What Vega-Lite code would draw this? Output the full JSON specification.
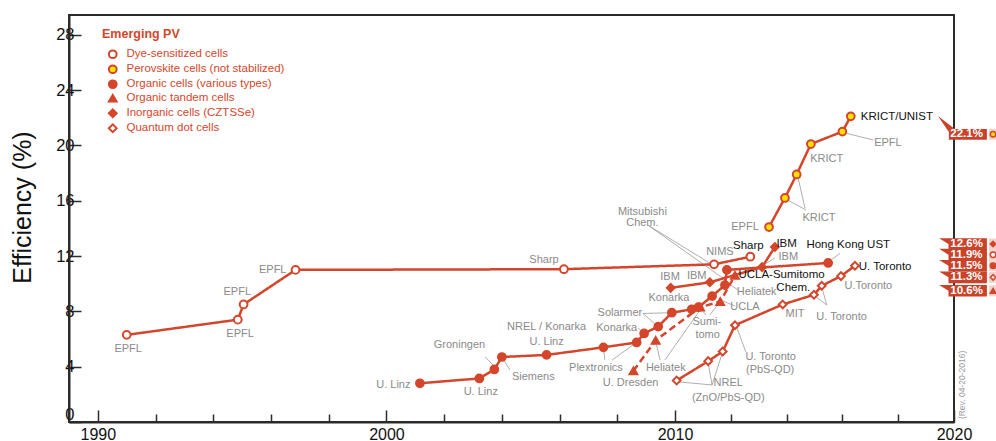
{
  "$schema": "https://vega.github.io/schema/vega-lite/v6.json",
  "width": 885,
  "height": 407,
  "autosize": {"type": "none"},
  "padding": {"left": 69, "top": 15, "right": 42, "bottom": 19},
  "background": "white",
  "config": {
    "view": {"stroke": "#2b2b2b", "strokeWidth": 2},
    "legend": {
      "orient": "none", "legendX": 33, "legendY": 13,
      "titleFont": "Liberation Sans", "titleFontSize": 12.5, "titleFontWeight": "bold", "titleColor": "#d4462b",
      "labelFont": "Liberation Sans", "labelFontSize": 11.5, "labelColor": "#d4462b",
      "symbolStrokeColor": "#d4462b", "symbolStrokeWidth": 2, "symbolSize": 60, "symbolOffset": 5,
      "rowPadding": -2, "labelOffset": 8, "titlePadding": 8
    }
  },
  "datasets": {
    "pts": [
      {"type": "Dye-sensitized cells", "o": 1, "year": 1991.0, "eff": 6.3},
      {"type": "Dye-sensitized cells", "o": 2, "year": 1994.85, "eff": 7.4},
      {"type": "Dye-sensitized cells", "o": 3, "year": 1995.05, "eff": 8.5},
      {"type": "Dye-sensitized cells", "o": 4, "year": 1996.85, "eff": 11.0},
      {"type": "Dye-sensitized cells", "o": 5, "year": 2006.15, "eff": 11.05},
      {"type": "Dye-sensitized cells", "o": 6, "year": 2011.4, "eff": 11.4},
      {"type": "Dye-sensitized cells", "o": 7, "year": 2012.7, "eff": 11.95},
      {"type": "Perovskite cells (not stabilized)", "o": 1, "year": 2013.37, "eff": 14.1},
      {"type": "Perovskite cells (not stabilized)", "o": 2, "year": 2013.94, "eff": 16.2},
      {"type": "Perovskite cells (not stabilized)", "o": 3, "year": 2014.36, "eff": 17.9},
      {"type": "Perovskite cells (not stabilized)", "o": 4, "year": 2014.87, "eff": 20.1},
      {"type": "Perovskite cells (not stabilized)", "o": 5, "year": 2016.0, "eff": 21.0},
      {"type": "Perovskite cells (not stabilized)", "o": 6, "year": 2016.3, "eff": 22.1},
      {"type": "Organic cells (various types)", "o": 1, "year": 2001.16, "eff": 2.8},
      {"type": "Organic cells (various types)", "o": 2, "year": 2003.22, "eff": 3.15},
      {"type": "Organic cells (various types)", "o": 3, "year": 2003.74, "eff": 3.8},
      {"type": "Organic cells (various types)", "o": 4, "year": 2004.0, "eff": 4.7},
      {"type": "Organic cells (various types)", "o": 5, "year": 2005.55, "eff": 4.85},
      {"type": "Organic cells (various types)", "o": 6, "year": 2007.52, "eff": 5.4},
      {"type": "Organic cells (various types)", "o": 7, "year": 2008.67, "eff": 5.75},
      {"type": "Organic cells (various types)", "o": 8, "year": 2008.93, "eff": 6.4},
      {"type": "Organic cells (various types)", "o": 9, "year": 2009.42, "eff": 6.9},
      {"type": "Organic cells (various types)", "o": 10, "year": 2009.89, "eff": 7.9},
      {"type": "Organic cells (various types)", "o": 11, "year": 2010.6, "eff": 8.15},
      {"type": "Organic cells (various types)", "o": 12, "year": 2010.84, "eff": 8.3},
      {"type": "Organic cells (various types)", "o": 13, "year": 2011.33, "eff": 9.1},
      {"type": "Organic cells (various types)", "o": 14, "year": 2011.79, "eff": 9.9},
      {"type": "Organic cells (various types)", "o": 15, "year": 2011.86, "eff": 11.0},
      {"type": "Organic cells (various types)", "o": 16, "year": 2015.49, "eff": 11.5},
      {"type": "Organic tandem cells", "o": 1, "year": 2008.56, "eff": 3.7},
      {"type": "Organic tandem cells", "o": 2, "year": 2009.33, "eff": 5.9},
      {"type": "Organic tandem cells", "o": 3, "year": 2010.9, "eff": 8.3},
      {"type": "Organic tandem cells", "o": 4, "year": 2011.62, "eff": 8.7},
      {"type": "Organic tandem cells", "o": 5, "year": 2012.15, "eff": 10.6},
      {"type": "Inorganic cells (CZTSSe)", "o": 1, "year": 2009.85, "eff": 9.7},
      {"type": "Inorganic cells (CZTSSe)", "o": 2, "year": 2011.25, "eff": 10.1},
      {"type": "Inorganic cells (CZTSSe)", "o": 3, "year": 2013.12, "eff": 11.2},
      {"type": "Inorganic cells (CZTSSe)", "o": 4, "year": 2013.58, "eff": 12.65},
      {"type": "Quantum dot cells", "o": 1, "year": 2010.06, "eff": 3.0},
      {"type": "Quantum dot cells", "o": 2, "year": 2011.19, "eff": 4.4},
      {"type": "Quantum dot cells", "o": 3, "year": 2011.71, "eff": 5.1},
      {"type": "Quantum dot cells", "o": 4, "year": 2012.15, "eff": 7.0},
      {"type": "Quantum dot cells", "o": 5, "year": 2013.86, "eff": 8.5},
      {"type": "Quantum dot cells", "o": 6, "year": 2014.98, "eff": 9.2},
      {"type": "Quantum dot cells", "o": 7, "year": 2015.26, "eff": 9.85},
      {"type": "Quantum dot cells", "o": 8, "year": 2015.95, "eff": 10.55},
      {"type": "Quantum dot cells", "o": 9, "year": 2016.45, "eff": 11.3}
    ],
    "labels": [
      {"t": "EPFL", "x": 1991.05, "y": 5.28, "c": "#8a8a8a", "fs": 11},
      {"t": "EPFL", "x": 1994.93, "y": 6.36, "c": "#8a8a8a", "fs": 11},
      {"t": "EPFL", "x": 1994.83, "y": 9.42, "c": "#8a8a8a", "fs": 11},
      {"t": "EPFL", "x": 1996.06, "y": 10.99, "c": "#8a8a8a", "fs": 11},
      {"t": "Sharp", "x": 2005.46, "y": 11.71, "c": "#8a8a8a", "fs": 11},
      {"t": "Mitsubishi", "x": 2008.87, "y": 15.21, "c": "#8a8a8a", "fs": 11},
      {"t": "Chem.", "x": 2008.87, "y": 14.37, "c": "#8a8a8a", "fs": 11},
      {"t": "NIMS", "x": 2011.61, "y": 12.31, "c": "#8a8a8a", "fs": 11},
      {"t": "IBM", "x": 2009.83, "y": 10.46, "c": "#8a8a8a", "fs": 11},
      {"t": "IBM", "x": 2010.78, "y": 10.56, "c": "#8a8a8a", "fs": 11},
      {"t": "Konarka", "x": 2009.79, "y": 8.94, "c": "#8a8a8a", "fs": 11},
      {"t": "Solarmer", "x": 2008.09, "y": 7.86, "c": "#8a8a8a", "fs": 11},
      {"t": "Konarka", "x": 2007.98, "y": 6.78, "c": "#8a8a8a", "fs": 11},
      {"t": "Sumi-", "x": 2011.14, "y": 7.25, "c": "#8a8a8a", "fs": 11},
      {"t": "tomo", "x": 2011.17, "y": 6.29, "c": "#8a8a8a", "fs": 11},
      {"t": "NREL / Konarka", "x": 2005.55, "y": 6.89, "c": "#8a8a8a", "fs": 11},
      {"t": "U. Linz", "x": 2005.55, "y": 5.81, "c": "#8a8a8a", "fs": 11},
      {"t": "Groningen", "x": 2002.53, "y": 5.57, "c": "#8a8a8a", "fs": 11},
      {"t": "Siemens", "x": 2005.09, "y": 3.28, "c": "#8a8a8a", "fs": 11},
      {"t": "U. Linz", "x": 2003.27, "y": 2.19, "c": "#8a8a8a", "fs": 11},
      {"t": "U. Linz", "x": 2000.24, "y": 2.68, "c": "#8a8a8a", "fs": 11},
      {"t": "Plextronics", "x": 2007.26, "y": 3.88, "c": "#8a8a8a", "fs": 11},
      {"t": "Heliatek", "x": 2009.68, "y": 3.88, "c": "#8a8a8a", "fs": 11},
      {"t": "U. Dresden", "x": 2008.46, "y": 2.8, "c": "#8a8a8a", "fs": 11},
      {"t": "NREL", "x": 2011.91, "y": 2.8, "c": "#8a8a8a", "fs": 11},
      {"t": "(ZnO/PbS-QD)", "x": 2011.91, "y": 1.71, "c": "#8a8a8a", "fs": 11},
      {"t": "U. Toronto", "x": 2013.43, "y": 4.72, "c": "#8a8a8a", "fs": 11},
      {"t": "(PbS-QD)", "x": 2013.41, "y": 3.76, "c": "#8a8a8a", "fs": 11},
      {"t": "MIT", "x": 2014.3, "y": 7.81, "c": "#8a8a8a", "fs": 11},
      {"t": "U. Toronto", "x": 2015.97, "y": 7.57, "c": "#8a8a8a", "fs": 11},
      {"t": "U.Toronto", "x": 2016.93, "y": 9.83, "c": "#8a8a8a", "fs": 11},
      {"t": "Heliatek", "x": 2012.93, "y": 9.42, "c": "#8a8a8a", "fs": 11},
      {"t": "UCLA", "x": 2012.51, "y": 8.34, "c": "#8a8a8a", "fs": 11},
      {"t": "IBM", "x": 2014.06, "y": 11.91, "c": "#8a8a8a", "fs": 11},
      {"t": "EPFL", "x": 2012.51, "y": 14.12, "c": "#8a8a8a", "fs": 11},
      {"t": "KRICT", "x": 2015.44, "y": 18.99, "c": "#8a8a8a", "fs": 11},
      {"t": "KRICT", "x": 2015.16, "y": 14.75, "c": "#8a8a8a", "fs": 11},
      {"t": "EPFL", "x": 2017.63, "y": 20.2, "c": "#8a8a8a", "fs": 11},
      {"t": "KRICT/UNIST", "x": 2017.95, "y": 22.03, "c": "#111111", "fs": 11.5},
      {"t": "Sharp", "x": 2012.63, "y": 12.73, "c": "#111111", "fs": 11.5},
      {"t": "IBM", "x": 2014.0, "y": 12.87, "c": "#111111", "fs": 11.5},
      {"t": "Hong Kong UST", "x": 2016.21, "y": 12.8, "c": "#111111", "fs": 11.5},
      {"t": "U. Toronto", "x": 2017.53, "y": 11.19, "c": "#111111", "fs": 11.5},
      {"t": "UCLA-Sumitomo", "x": 2013.82, "y": 10.63, "c": "#111111", "fs": 11.5},
      {"t": "Chem.", "x": 2014.24, "y": 9.67, "c": "#111111", "fs": 11.5}
    ],
    "leaders": [
      {"x": 2003.42, "y": 4.72, "x2": 2003.69, "y2": 4.12},
      {"x": 2004.28, "y": 3.76, "x2": 2004.04, "y2": 4.56},
      {"x": 2007.57, "y": 4.48, "x2": 2007.52, "y2": 5.33},
      {"x": 2007.82, "y": 4.48, "x2": 2008.67, "y2": 5.76},
      {"x": 2009.48, "y": 4.48, "x2": 2009.33, "y2": 5.86},
      {"x": 2009.65, "y": 4.48, "x2": 2010.9, "y2": 8.1},
      {"x": 2008.89, "y": 7.85, "x2": 2009.89, "y2": 7.9},
      {"x": 2008.89, "y": 7.85, "x2": 2009.41, "y2": 6.89},
      {"x": 2008.72, "y": 6.8, "x2": 2008.93, "y2": 6.41},
      {"x": 2009.06, "y": 14.24, "x2": 2011.36, "y2": 11.35},
      {"x": 2009.06, "y": 14.24, "x2": 2011.86, "y2": 10.2},
      {"x": 2011.11, "y": 7.74, "x2": 2010.9, "y2": 8.24},
      {"x": 2011.25, "y": 7.74, "x2": 2011.61, "y2": 8.68},
      {"x": 2012.26, "y": 9.54, "x2": 2011.9, "y2": 10.05},
      {"x": 2012.15, "y": 8.39, "x2": 2011.72, "y2": 8.75},
      {"x": 2013.58, "y": 11.86, "x2": 2013.23, "y2": 11.42},
      {"x": 2015.91, "y": 12.2, "x2": 2015.62, "y2": 11.76},
      {"x": 2015.44, "y": 8.46, "x2": 2015.02, "y2": 9.11},
      {"x": 2015.44, "y": 8.46, "x2": 2015.26, "y2": 9.76},
      {"x": 2011.33, "y": 2.68, "x2": 2010.18, "y2": 2.89},
      {"x": 2011.33, "y": 2.68, "x2": 2011.18, "y2": 4.34},
      {"x": 2011.33, "y": 2.68, "x2": 2011.71, "y2": 5.08},
      {"x": 2012.54, "y": 5.06, "x2": 2012.22, "y2": 6.8},
      {"x": 2014.7, "y": 15.33, "x2": 2013.97, "y2": 16.12},
      {"x": 2014.66, "y": 15.45, "x2": 2014.39, "y2": 17.86},
      {"x": 2017.11, "y": 20.39, "x2": 2016.15, "y2": 20.87}
    ],
    "flags": [
      {"pct": "22.1%", "fy": 20.8, "type": "Perovskite cells (not stabilized)", "k": "big"},
      {"pct": "12.6%", "fy": 12.87, "type": "Inorganic cells (CZTSSe)", "k": "s"},
      {"pct": "11.9%", "fy": 12.1, "type": "Dye-sensitized cells", "k": "s"},
      {"pct": "11.5%", "fy": 11.3, "type": "Organic cells (various types)", "k": "s"},
      {"pct": "11.3%", "fy": 10.46, "type": "Quantum dot cells", "k": "s"},
      {"pct": "10.6%", "fy": 9.49, "type": "Organic tandem cells", "k": "s"}
    ],
    "notes": [{"t": "(Rev. 04-20-2016)", "x": 2020.29, "y": 2.68}]
  },
  "layer": [
    {
      "data": {"name": "leaders"},
      "mark": {"type": "rule", "color": "#9a9a9a", "strokeWidth": 0.8},
      "encoding": {
        "x": {"field": "x", "type": "quantitative",
          "scale": {"domain": [1989, 2010, 2020], "range": [0, 606, 885], "nice": false, "zero": false},
          "axis": {
            "values": [1990,1991,1992,1993,1994,1995,1996,1997,1998,1999,2000,2001,2002,2003,2004,2005,2006,2007,2008,2009,2010,2011,2012,2013,2014,2015,2016,2017,2018,2019,2020],
            "format": "d",
            "labelExpr": "datum.value % 5 === 0 ? datum.label : ''",
            "tickSize": {"condition": {"test": "datum.value % 5 === 0", "value": -12}, "value": -8},
            "tickColor": "#2b2b2b", "tickWidth": 1.5,
            "domainColor": "#2b2b2b", "domainWidth": 2,
            "labelFont": "Liberation Sans", "labelFontSize": 16, "labelColor": "#111111",
            "labelBaseline": "top", "labelPadding": 16, "labelFlush": false, "labelOverlap": false,
            "grid": false, "title": null
          }
        },
        "y": {"field": "y", "type": "quantitative",
          "scale": {"domain": [0, 29.43], "nice": false, "zero": true},
          "axis": {
            "values": [0, 4, 8, 12, 16, 20, 24, 28],
            "tickSize": -12, "tickColor": "#2b2b2b", "tickWidth": 1.5,
            "domainColor": "#2b2b2b", "domainWidth": 2,
            "labelFont": "Liberation Sans", "labelFontSize": 16.5, "labelColor": "#111111",
            "labelPadding": 7, "labelFlush": true, "grid": false,
            "title": "Efficiency (%)", "titleFont": "Liberation Sans", "titleFontSize": 25,
            "titleFontWeight": "normal", "titleColor": "#111111",
            "titleAngle": -90, "titleAlign": "center", "titleBaseline": "middle",
            "titleX": -47, "titleY": 192
          }
        },
        "x2": {"field": "x2"},
        "y2": {"field": "y2"}
      }
    },
    {
      "data": {"name": "pts"},
      "mark": {"type": "line", "color": "#d4462b", "strokeWidth": 2.5},
      "encoding": {
        "x": {"field": "year", "type": "quantitative"},
        "y": {"field": "eff", "type": "quantitative"},
        "detail": {"field": "type"},
        "order": {"field": "o", "type": "quantitative"},
        "strokeDash": {"condition": {"test": "datum.type === 'Organic tandem cells'", "value": [7, 4]}, "value": [1, 0]}
      }
    },
    {
      "data": {"name": "pts"},
      "mark": {"type": "point", "filled": true, "strokeWidth": 2, "size": 60, "opacity": 1},
      "encoding": {
        "x": {"field": "year", "type": "quantitative"},
        "y": {"field": "eff", "type": "quantitative"},
        "shape": {"field": "type", "type": "nominal", "title": "Emerging PV",
          "scale": {"domain": ["Dye-sensitized cells", "Perovskite cells (not stabilized)", "Organic cells (various types)", "Organic tandem cells", "Inorganic cells (CZTSSe)", "Quantum dot cells"],
            "range": ["circle", "circle", "circle", "triangle-up", "diamond", "diamond"]}},
        "fill": {"field": "type", "type": "nominal", "title": "Emerging PV",
          "scale": {"domain": ["Dye-sensitized cells", "Perovskite cells (not stabilized)", "Organic cells (various types)", "Organic tandem cells", "Inorganic cells (CZTSSe)", "Quantum dot cells"],
            "range": ["#ffffff", "#ffe100", "#d4462b", "#d4462b", "#d4462b", "#ffffff"]}},
        "stroke": {"field": "type", "type": "nominal", "title": "Emerging PV",
          "scale": {"domain": ["Dye-sensitized cells", "Perovskite cells (not stabilized)", "Organic cells (various types)", "Organic tandem cells", "Inorganic cells (CZTSSe)", "Quantum dot cells"],
            "range": ["#d4462b", "#d4462b", "#d4462b", "#d4462b", "#d4462b", "#d4462b"]}}
      }
    },
    {
      "data": {"name": "labels"},
      "mark": {"type": "text", "font": "Liberation Sans", "align": "center", "baseline": "middle"},
      "encoding": {
        "x": {"field": "x", "type": "quantitative"},
        "y": {"field": "y", "type": "quantitative"},
        "text": {"field": "t"},
        "color": {"field": "c", "type": "nominal", "scale": null},
        "size": {"field": "fs", "type": "quantitative", "scale": null}
      }
    },
    {
      "data": {"name": "flags"},
      "transform": [{"filter": "datum.k === 'big'"}],
      "mark": {"type": "point", "filled": true, "color": "#c9432b", "opacity": 1, "size": 1521,
        "shape": "M -1.51 -0.94 L -0.64 -0.28 L 1 -0.28 L 1 0.28 L -0.95 0.28 L -0.95 -0.12 Z"},
      "encoding": {
        "x": {"datum": 2020.48, "type": "quantitative"},
        "y": {"field": "fy", "type": "quantitative"}
      }
    },
    {
      "data": {"name": "flags"},
      "transform": [{"filter": "datum.k === 's'"}],
      "mark": {"type": "point", "filled": true, "color": "#c9432b", "opacity": 1, "size": 1521,
        "shape": "M -1.45 -0.3 L 1 -0.3 L 1 0.3 L -0.97 0.3 L -0.97 0.0 Z"},
      "encoding": {
        "x": {"datum": 2020.48, "type": "quantitative"},
        "y": {"field": "fy", "type": "quantitative"}
      }
    },
    {
      "data": {"name": "flags"},
      "mark": {"type": "square", "filled": true, "color": "#f4d3ca", "opacity": 1, "size": 121},
      "encoding": {
        "x": {"datum": 2021.45, "type": "quantitative"},
        "y": {"field": "fy", "type": "quantitative"}
      }
    },
    {
      "data": {"name": "flags"},
      "mark": {"type": "point", "filled": true, "strokeWidth": 1.5, "size": 30, "opacity": 1},
      "encoding": {
        "x": {"datum": 2021.4, "type": "quantitative"},
        "y": {"field": "fy", "type": "quantitative"},
        "shape": {"field": "type", "type": "nominal", "title": "Emerging PV"},
        "fill": {"field": "type", "type": "nominal", "title": "Emerging PV"},
        "stroke": {"field": "type", "type": "nominal", "title": "Emerging PV"}
      }
    },
    {
      "data": {"name": "flags"},
      "mark": {"type": "text", "font": "Liberation Sans", "fontWeight": "bold", "fontSize": 11.5, "color": "white", "align": "center", "baseline": "middle"},
      "encoding": {
        "x": {"datum": 2020.45, "type": "quantitative"},
        "y": {"field": "fy", "type": "quantitative"},
        "text": {"field": "pct"}
      }
    },
    {
      "data": {"name": "notes"},
      "mark": {"type": "text", "font": "Liberation Sans", "fontSize": 8.5, "color": "#9a9a9a", "angle": 270, "align": "center", "baseline": "middle"},
      "encoding": {
        "x": {"field": "x", "type": "quantitative"},
        "y": {"field": "y", "type": "quantitative"},
        "text": {"field": "t"}
      }
    }
  ]
}
